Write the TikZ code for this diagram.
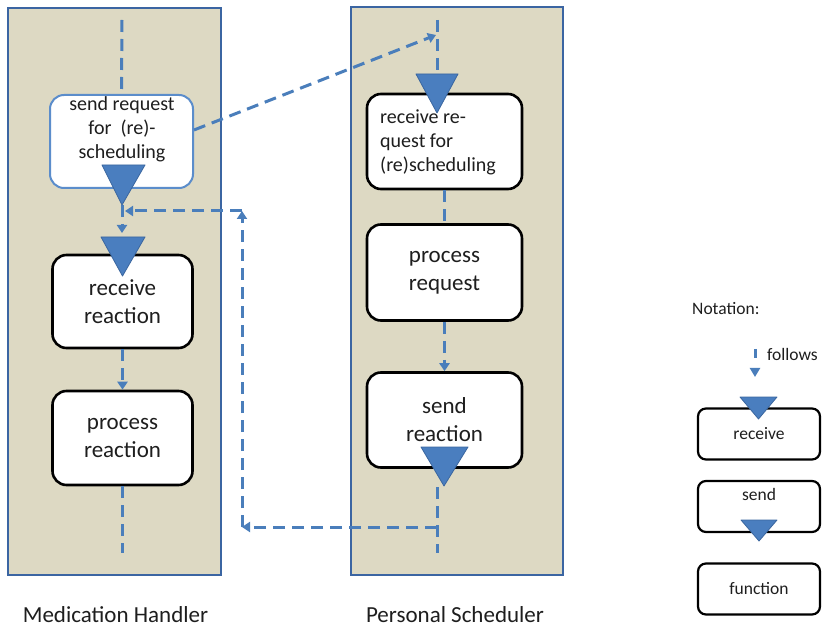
\documentclass[tikz,border=0pt]{standalone}
\usepackage{fontspec}
\setmainfont{Carlito}
\usetikzlibrary{arrows.meta,calc}
\definecolor{lanefill}{HTML}{DDD9C3}
\definecolor{laneedge}{HTML}{3B65A2}
\definecolor{flowblue}{HTML}{4A7EBB}
\definecolor{trifill}{HTML}{4A7EBF}
\definecolor{triedge}{HTML}{3A669F}
\definecolor{txt}{HTML}{1E1E1E}
\definecolor{lightedge}{HTML}{5B8DCB}
\begin{document}
\begin{tikzpicture}[x=1pt,y=-1pt,
  lane/.style={draw=laneedge, fill=lanefill, line width=2.4pt, inner sep=0pt, anchor=north west},
  fbox/.style={draw=black, line width=2.6pt, fill=white, rounded corners=14pt, minimum width=140pt, minimum height=93pt, inner sep=0pt, align=center, font=\fontsize{23}{28}\selectfont, text=txt},
  wbox/.style={fbox, minimum width=155pt, minimum height=95pt},
  nbox/.style={draw=black, line width=2.2pt, fill=white, rounded corners=8pt, minimum width=122pt, minimum height=51pt, inner sep=0pt, align=center, font=\fontsize{17.5}{21}\selectfont, text=txt},
  flow/.style={draw=flowblue, line width=3pt, dash pattern=on 12pt off 7pt},
  arr/.style={-{Triangle[width=10pt,length=8pt]}},
  tri/.style={fill=trifill, draw=triedge, line width=0.8pt, line join=round},
  small/.style={font=\fontsize{20}{24}\selectfont, text=txt, inner sep=0pt},
  note/.style={font=\fontsize{17.5}{21}\selectfont, text=txt, inner sep=0pt},
  lbl/.style={font=\fontsize{23}{28}\selectfont, text=txt, inner sep=0pt}
]
\useasboundingbox (0,0) rectangle (825,628);

% lanes
\node[lane, minimum width=213pt, minimum height=567pt] (laneL) at (7,7) {};
\node[lane, minimum width=212pt, minimum height=568pt] (laneR) at (350,6) {};

% boxes, left lane
\node[fbox, draw=lightedge, line width=2pt, minimum width=143pt] (b1) at (121.5,141.5) {};
\node[small, align=center] (b1t) at (122,129) {send request\\for\ \ (re)-\\scheduling};
\node[fbox] (b2) at (122.5,301.5) {receive\\reaction};
\node[fbox, minimum height=94pt] (b3) at (122.5,438) {process\\reaction};

% boxes, right lane
\node[wbox] (c1) at (444.5,141.5) {};
\node[small, align=left, anchor=west] (c1t) at (380,142) {receive re-\\quest for\\(re)scheduling};
\node[wbox, minimum height=96pt] (c2) at (444.5,272.5) {process\\request};
\node[wbox] (c3) at (444.5,420) {send\\reaction};

% coordinates
\coordinate (l1top) at (122,20);
\coordinate (t1) at (122,205);
\coordinate (t2top) at (122,233);
\coordinate (l1bot) at (122.5,553);
\coordinate (r1top) at (437,20);
\coordinate (t3top) at (437,78);
\coordinate (r1s) at (437,487);
\coordinate (r1bot) at (437,553);
\coordinate (sendstart) at (194,130);
\coordinate (recvpt) at (436,35);
\coordinate (ret1) at (437,527);
\coordinate (ret2) at (242,527);
\coordinate (ret3) at (242,211);
\coordinate (ret4) at (125,211);

% lifelines
\draw[flow] (l1top) -- (b1.north);
\draw[flow, arr] (t1) -- (t2top);
\draw[flow, arr] (b2.south) -- (b3.north);
\draw[flow] (b3.south) -- (l1bot);
\draw[flow] (r1top) -- (t3top);
\draw[flow] (c1.south) -- (c2.north);
\draw[flow, arr] (c2.south) -- (c3.north);
\draw[flow] (r1s) -- (r1bot);

% messages
\draw[flow, arr] (sendstart) -- (recvpt);
\draw[flow, arr] (ret1) -- (ret2);
\draw[flow, arr] (ret2) -- (ret3);
\draw[flow, arr] (ret3) -- (ret4);

% send / receive triangles
\filldraw[tri] (102,165) -- (145,165) -- (t1) -- cycle;
\filldraw[tri] (101,237) -- (145,237) -- (122.5,276) -- cycle;
\filldraw[tri] (416,74) -- (458,74) -- (437,113) -- cycle;
\filldraw[tri] (421,447) -- (468,447) -- (444,486) -- cycle;

% notation
\node[note, anchor=base west] (notat) at (692,315) {Notation:};
\coordinate (f1) at (755,349);
\coordinate (f2) at (755,377);
\draw[flow, dash pattern=on 9pt off 20pt, -{Triangle[width=10pt,length=9pt]}] (f1) -- (f2);
\node[note, anchor=base west] (foll) at (767,361) {follows};
\node[nbox] (n1) at (759,434) {receive};
\filldraw[tri] (740,397) -- (777,397) -- (758.5,419) -- cycle;
\node[nbox] (n2) at (759,506.5) {};
\node[note] (n2t) at (759,494) {send};
\filldraw[tri] (741,520) -- (777,520) -- (759,541) -- cycle;
\node[nbox] (n3) at (759,589) {function};

% lane labels
\node[lbl, anchor=base] (labL) at (115.5,622) {Medication Handler};
\node[lbl, anchor=base] (labR) at (455,622) {Personal Scheduler};
\end{tikzpicture}
\end{document}
